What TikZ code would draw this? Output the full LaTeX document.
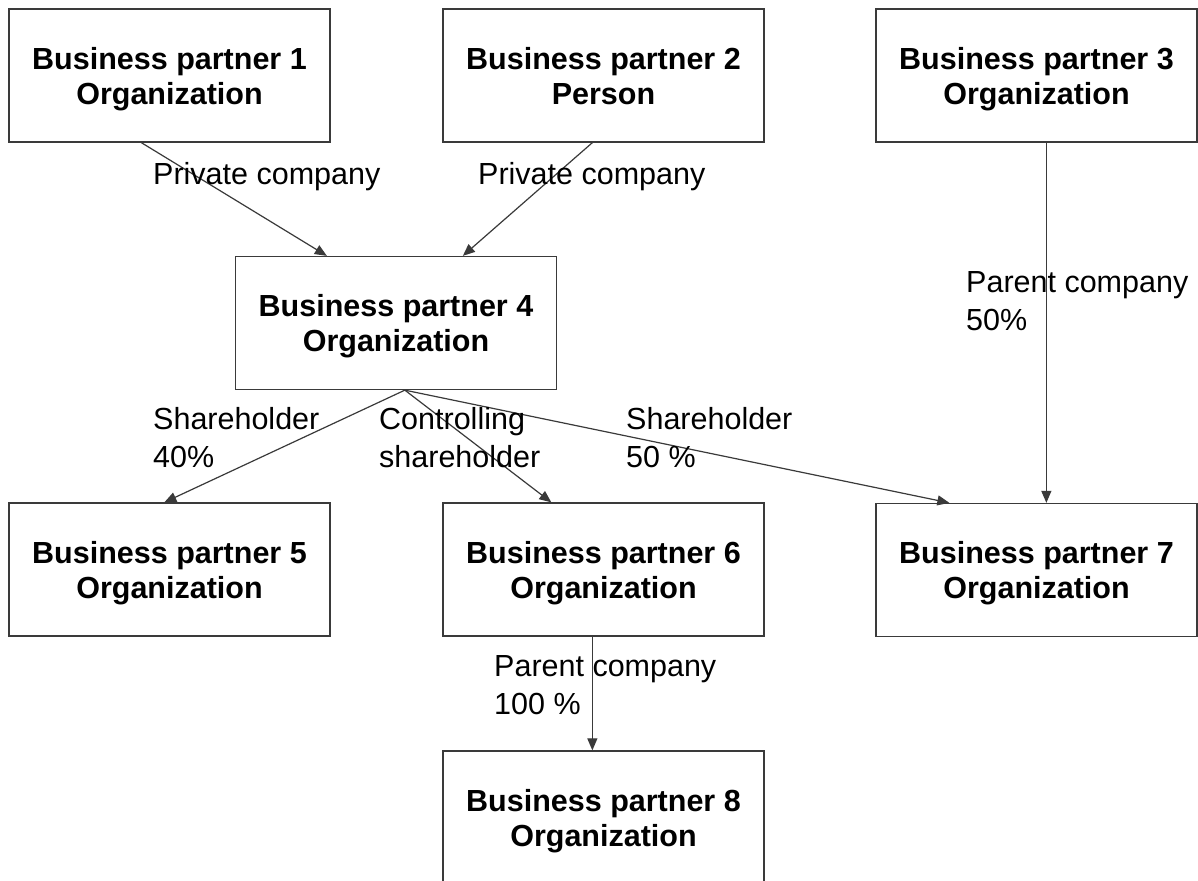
\documentclass[tikz,border=0pt]{standalone}
\usepackage{fontspec}
\setmainfont{Liberation Sans}
\usetikzlibrary{arrows.meta}
\definecolor{linegray}{HTML}{3A3A3A}
\tikzset{
  bpbox/.style={draw=linegray, line width=1.3pt, minimum width=321pt, minimum height=133pt,
    inner sep=0pt, text depth=0pt, align=center, font=\fontsize{30.5}{35}\selectfont\bfseries},
  rel/.style={draw=linegray, line width=1.2pt, -{Triangle[length=12pt,width=10pt]}},
  lab/.style={anchor=base west, inner sep=0pt, align=left, font=\fontsize{30.5}{38}\selectfont}
}
\begin{document}
\begin{tikzpicture}[x=1pt,y=-1pt]
\useasboundingbox (0,0) rectangle (1198,880);
\fill[white] (0,0) rectangle (1198,880);
\node[bpbox] (bp1) at (169.5,75.5) {Business partner 1\\Organization};
\node[bpbox] (bp2) at (603.5,75.5) {Business partner 2\\Person};
\node[bpbox] (bp3) at (1036.5,75.5) {Business partner 3\\Organization};
\node[bpbox] (bp4) at (396,323) {Business partner 4\\Organization};
\node[bpbox] (bp5) at (169.5,569.5) {Business partner 5\\Organization};
\node[bpbox] (bp6) at (603.5,569.5) {Business partner 6\\Organization};
\node[bpbox] (bp7) at (1036.5,570) {Business partner 7\\Organization};
\node[bpbox] (bp8) at (603.5,817.5) {Business partner 8\\Organization};

\draw[rel] ([xshift=133pt]bp1.south west) -- ([xshift=92pt]bp4.north west);
\draw[rel] ([xshift=150pt]bp2.south west) -- ([xshift=228pt]bp4.north west);
\draw[rel] ([xshift=171pt]bp3.south west) -- ([xshift=171pt]bp7.north west);
\draw[rel] ([xshift=170pt]bp4.south west) -- ([xshift=156pt]bp5.north west);
\draw[rel] ([xshift=170pt]bp4.south west) -- ([xshift=109pt]bp6.north west);
\draw[rel] ([xshift=170pt]bp4.south west) -- ([xshift=74pt]bp7.north west);
\draw[rel] ([xshift=150pt]bp6.south west) -- ([xshift=150pt]bp8.north west);

\node[lab] (l1) at (153,184) {Private company};
\node[lab] (l2) at (478,184) {Private company};
\node[lab] (l3) at (966,330) {Parent company\\50\%};
\node[lab] (l4) at (153,467) {Shareholder\\40\%};
\node[lab] (l5) at (379,467) {Controlling\\shareholder};
\node[lab] (l6) at (626,467) {Shareholder\\50 \%};
\node[lab] (l7) at (494,714) {Parent company\\100 \%};
\end{tikzpicture}
\end{document}
